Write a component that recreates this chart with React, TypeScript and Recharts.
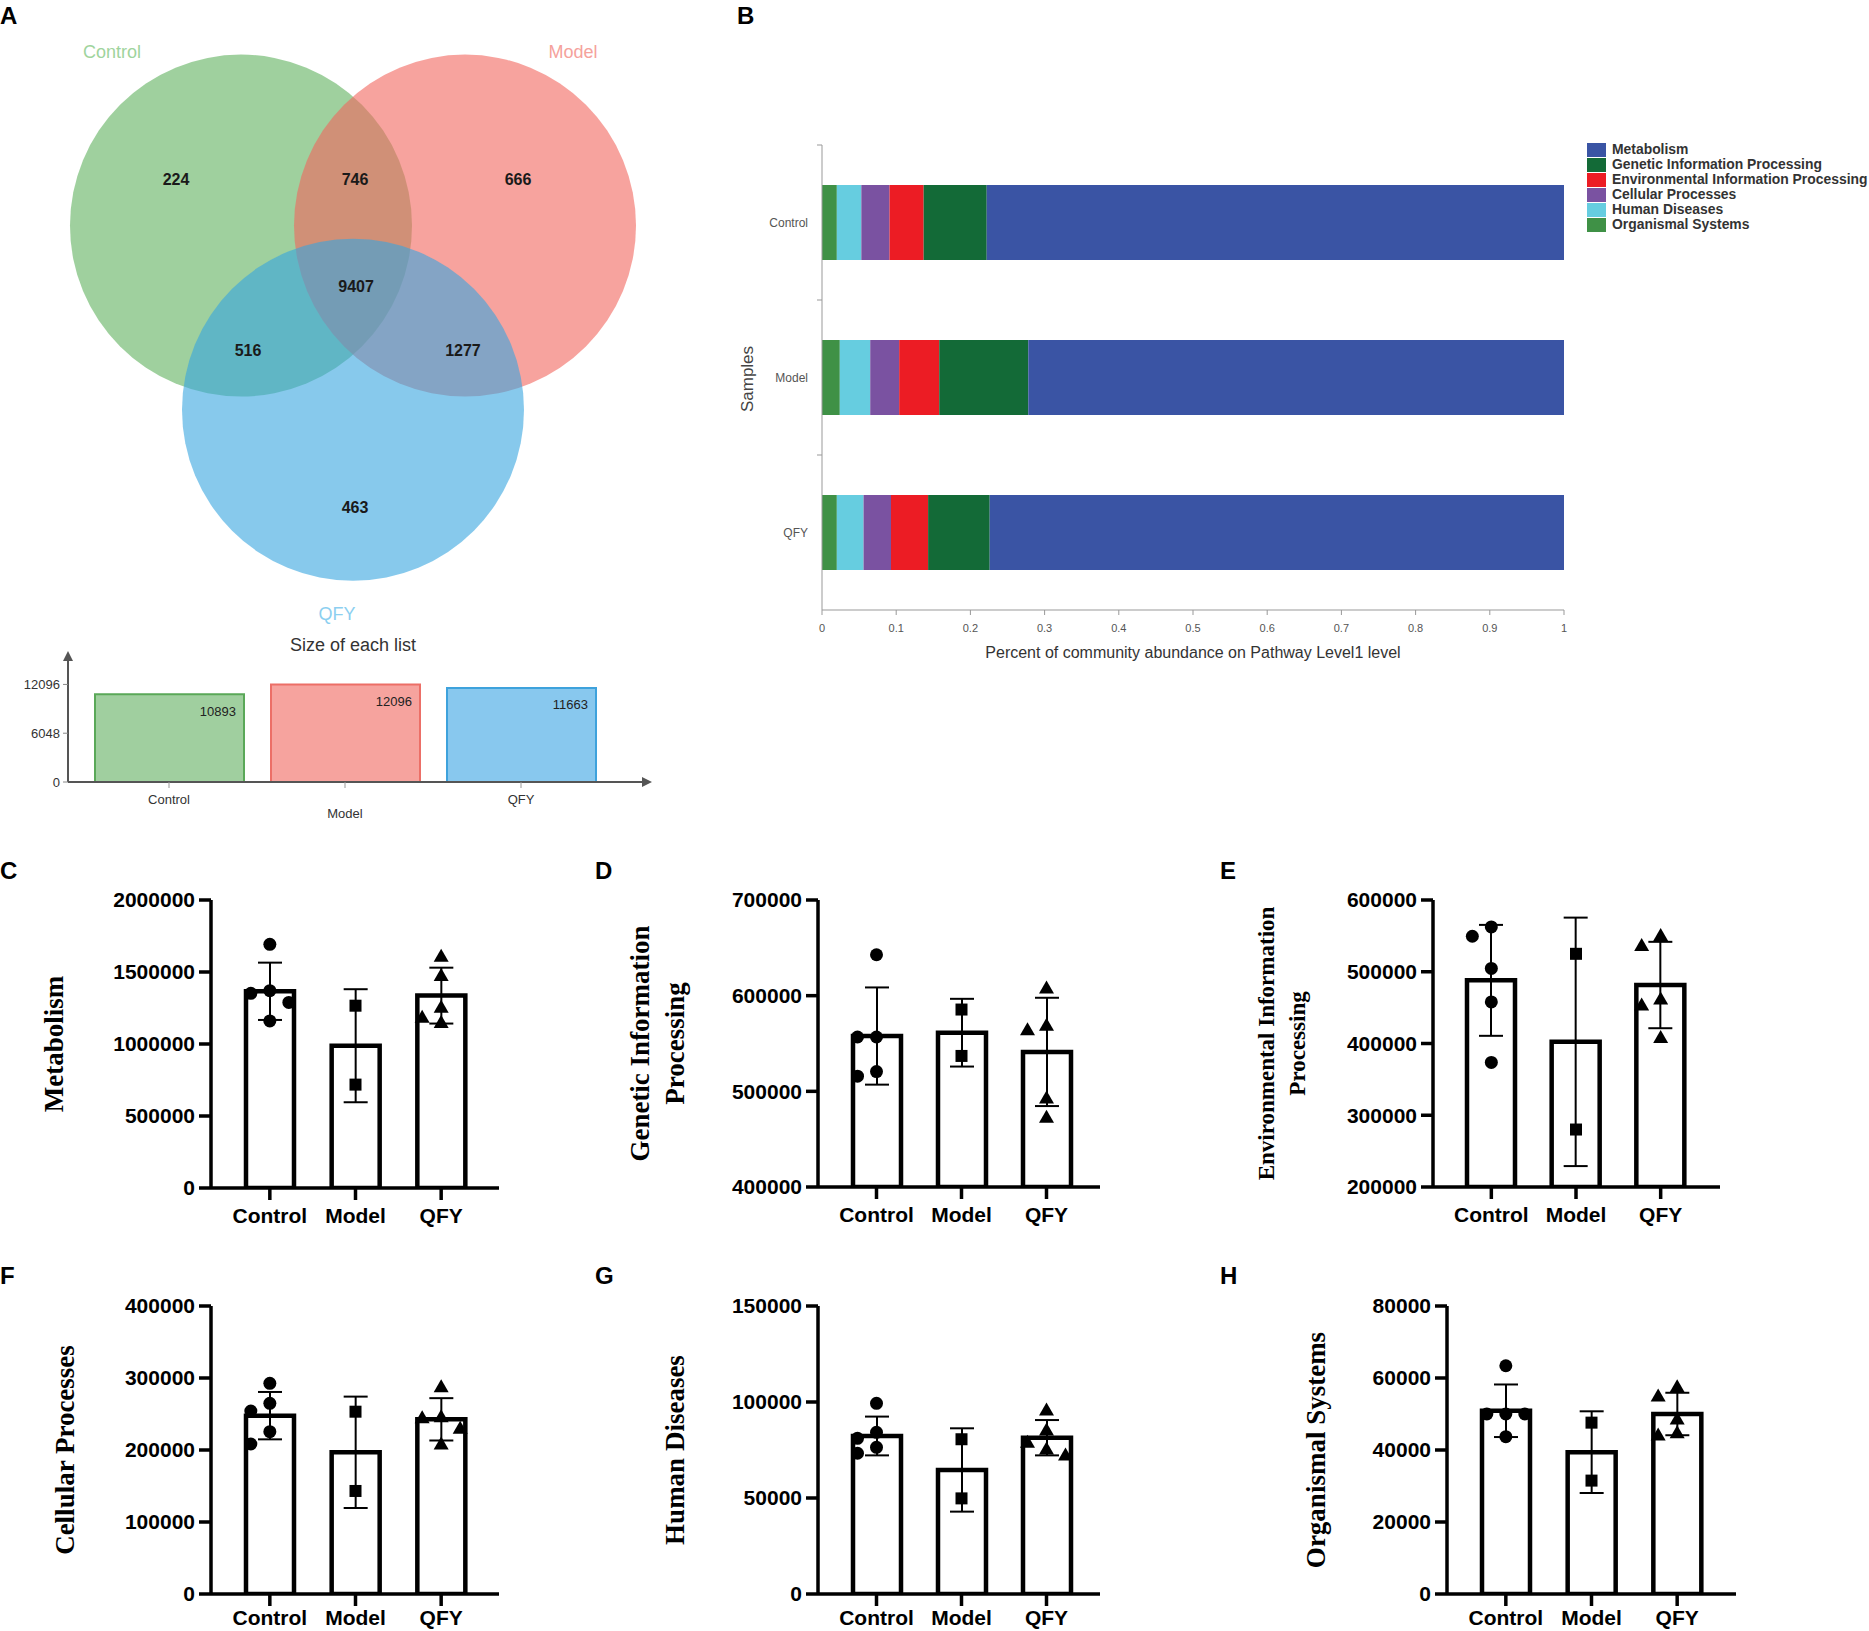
import React from 'react';
import {
  BarChart, Bar, ComposedChart, Line, ErrorBar, ScatterChart, Scatter,
  XAxis, YAxis, LabelList, Cell,
} from 'recharts';

// ---------- A: Venn + list sizes ----------
const VENN_SETS = ['Control', 'Model', 'QFY'];
const VENN_REGIONS = ['Control', 'Control∩Model', 'Model', 'All', 'Control∩QFY', 'Model∩QFY', 'QFY'];
const VENN_COUNTS = [224, 746, 666, 9407, 516, 1277, 463];
const LIST_SIZES = [10893, 12096, 11663];
const LIST_TICKS = [0, 6048, 12096];

// ---------- B: pathway level 1 share ----------
const SAMPLES = ['Control', 'Model', 'QFY'];
const PATHWAYS = [
  'Organismal Systems', 'Human Diseases', 'Cellular Processes',
  'Environmental Information Processing', 'Genetic Information Processing', 'Metabolism',
];
const ORGANISMAL_SHARE = [0.020, 0.024, 0.020];
const HUMAN_SHARE = [0.033, 0.041, 0.036];
const CELLULAR_SHARE = [0.038, 0.039, 0.037];
const ENVIRONMENTAL_SHARE = [0.046, 0.054, 0.050];
const GENETIC_SHARE = [0.085, 0.120, 0.083];
const METABOLISM_SHARE = [0.778, 0.722, 0.774];
const SHARE_TICKS = [0, 0.1, 0.2, 0.3, 0.4, 0.5, 0.6, 0.7, 0.8, 0.9, 1];

// ---------- C-H: abundance per group (mean, SD, samples) ----------
const GROUPS = ['Control', 'Model', 'QFY'];

const METABOLISM_MEAN = [1366000, 988000, 1336000];
const METABOLISM_SD = [199000, 392500, 194000];
const METABOLISM_POINTS = [
  [1692000, 1370000, 1352000, 1289000, 1160000],
  [1266000, 718000],
  [1609000, 1475000, 1255000, 1185000, 1150000],
];
const METABOLISM_TICKS = [0, 500000, 1000000, 1500000, 2000000];

const GENETIC_MEAN = [557800, 561300, 541200];
const GENETIC_SD = [50800, 35400, 56600];
const GENETIC_POINTS = [
  [642800, 556800, 556800, 520700, 515800],
  [585500, 537000],
  [608000, 569200, 564400, 493000, 472800],
];
const GENETIC_TICKS = [400000, 500000, 600000, 700000];

const ENVIRONMENTAL_MEAN = [488000, 402300, 481500];
const ENVIRONMENTAL_SD = [77300, 173150, 60200];
const ENVIRONMENTAL_POINTS = [
  [562500, 549500, 504600, 457900, 373600],
  [525000, 280100],
  [550500, 536600, 462000, 453700, 408300],
];
const ENVIRONMENTAL_TICKS = [200000, 300000, 400000, 500000, 600000];

const CELLULAR_MEAN = [247700, 196800, 242600];
const CELLULAR_SD = [32900, 77350, 29400];
const CELLULAR_POINTS = [
  [292600, 264800, 254200, 225500, 208300],
  [253200, 143100],
  [288000, 246300, 244900, 230100, 208300],
];
const CELLULAR_TICKS = [0, 100000, 200000, 300000, 400000];

const HUMAN_MEAN = [82300, 64600, 81400];
const HUMAN_SD = [10100, 21700, 9200];
const HUMAN_POINTS = [
  [99300, 84200, 81100, 76400, 73300],
  [80600, 49800],
  [95800, 85400, 79000, 75500, 72400],
];
const HUMAN_TICKS = [0, 50000, 100000, 150000];

const ORGANISMAL_MEAN = [50900, 39400, 50000];
const ORGANISMAL_SD = [7300, 11350, 5900];
const ORGANISMAL_POINTS = [
  [63400, 50000, 50000, 50000, 43700],
  [47600, 31500],
  [57600, 55000, 48600, 44800, 44200],
];
const ORGANISMAL_TICKS = [0, 20000, 40000, 60000, 80000];

// ---------- styles / layout ----------
const SANS = '"Liberation Sans", Arial, sans-serif';
const SERIF = '"Liberation Serif", "Times New Roman", serif';

const VENN_W = 700;
const VENN_H = 640;
const VENN_R = 171; // px per circle radius
const VENN_OX = 353;
const VENN_OY = 287;
// geometry in circle radii, from the centroid of the three centres
const VENN_CENTRES = [[-0.655, -0.359], [0.655, -0.359], [0, 0.718]];
const VENN_COUNT_POS = [
  [-1.035, -0.628], [0.012, -0.628], [0.965, -0.628], [0.018, -0.002],
  [-0.614, 0.372], [0.643, 0.372], [0.012, 1.29],
];
const VENN_NAME_POS = [[-1.409, -1.376], [1.287, -1.376], [-0.094, 1.911]];
const VENN_FILL = ['#5fb05d', '#f2665d', '#37a5df'];
const VENN_NAME_COLOR = ['#9fd49d', '#f5a29c', '#8ccff0'];
const LIST_FILL = ['#a0cf9f', '#f6a39e', '#88c8ee'];
const LIST_STROKE = ['#5aa858', '#ec6f67', '#3ea2dc'];

const PATHWAY_KEYS = ['organismal', 'human', 'cellular', 'environmental', 'genetic', 'metabolism'];
const PATHWAY_COLORS = ['#3f9146', '#66cde0', '#7a52a1', '#ec1c24', '#136a37', '#3a54a4'];

const vennX: [number, number] = [-VENN_OX / VENN_R, (VENN_W - VENN_OX) / VENN_R];
const vennY: [number, number] = [-VENN_OY / VENN_R, (VENN_H - VENN_OY) / VENN_R];

function VennPanel() {
  const circles = VENN_SETS.map((name, i) => ({ name, i, x: VENN_CENTRES[i][0], y: VENN_CENTRES[i][1] }));
  const counts = VENN_REGIONS.map((name, i) => ({
    name, count: VENN_COUNTS[i], x: VENN_COUNT_POS[i][0], y: VENN_COUNT_POS[i][1],
  }));
  const names = VENN_SETS.map((name, i) => ({ name, i, x: VENN_NAME_POS[i][0], y: VENN_NAME_POS[i][1] }));
  return (
    <ScatterChart width={VENN_W} height={VENN_H} margin={{ top: 0, right: 0, bottom: 0, left: 0 }}>
      <XAxis type="number" dataKey="x" domain={vennX} hide allowDataOverflow />
      <YAxis type="number" dataKey="y" domain={vennY} hide reversed allowDataOverflow />
      <Scatter
        data={circles}
        isAnimationActive={false}
        shape={(p: any) => (
          <circle cx={p.cx} cy={p.cy} r={VENN_R} fill={VENN_FILL[p.payload.i]} fillOpacity={0.6} />
        )}
      />
      <Scatter
        data={counts}
        isAnimationActive={false}
        shape={(p: any) => (
          <text x={p.cx} y={p.cy} textAnchor="middle" dominantBaseline="central"
            fontFamily={SANS} fontSize={16} fontWeight={700} fill="#1a1a1a">
            {p.payload.count}
          </text>
        )}
      />
      <Scatter
        data={names}
        isAnimationActive={false}
        shape={(p: any) => (
          <text x={p.cx} y={p.cy} textAnchor="middle" dominantBaseline="central"
            fontFamily={SANS} fontSize={18} fill={VENN_NAME_COLOR[p.payload.i]}>
            {p.payload.name}
          </text>
        )}
      />
    </ScatterChart>
  );
}

const ListTick = (props: any) => {
  const { x, y, payload, index } = props;
  return (
    <text x={x} y={y + (index === 1 ? 14 : 0)} dy="0.71em" textAnchor="middle"
      fontFamily={SANS} fontSize={13} fill="#333">
      {payload.value}
    </text>
  );
};

const ListLabel = (props: any) => {
  const { x, y, width, value } = props;
  return (
    <text x={x + width - 8} y={y + 17} textAnchor="end" dominantBaseline="central"
      fontFamily={SANS} fontSize={13} fill="#222">
      {value}
    </text>
  );
};

function ListSizePanel() {
  const rows = VENN_SETS.map((name, i) => ({ name, size: LIST_SIZES[i] }));
  return (
    <BarChart width={700} height={210} data={rows} margin={{ top: 31, left: 8, right: 58, bottom: 18 }} barSize={149}>
      <XAxis
        dataKey="name"
        padding={{ left: 13, right: 33 }}
        axisLine={{ stroke: '#555', strokeWidth: 2, markerEnd: 'url(#arrowHead)' }}
        tickLine={{ stroke: '#999' }}
        tickSize={6}
        tickMargin={7}
        tick={<ListTick />}
        height={40}
        interval={0}
      />
      <YAxis
        type="number"
        domain={[0, 15000]}
        ticks={LIST_TICKS}
        interval={0}
        width={60}
        axisLine={{ stroke: '#555', strokeWidth: 2, markerStart: 'url(#arrowHead)' }}
        tickLine={{ stroke: '#888' }}
        tickSize={5}
        tickMargin={3}
        tick={{ fontSize: 13, fill: '#333', fontFamily: SANS }}
      />
      <Bar dataKey="size" isAnimationActive={false} strokeWidth={2}>
        {rows.map((r, i) => (
          <Cell key={r.name} fill={LIST_FILL[i]} stroke={LIST_STROKE[i]} />
        ))}
        <LabelList dataKey="size" content={ListLabel} />
      </Bar>
    </BarChart>
  );
}

// ---------- B ----------
const B_PLOT_H = 465;
const SampleTick = (props: any) => {
  const { x, y, payload } = props;
  const band = B_PLOT_H / SAMPLES.length;
  return (
    <g>
      <line x1={x - 5} x2={x} y1={y - band / 2} y2={y - band / 2} stroke="#999" />
      <text x={x - 14} y={y} textAnchor="end" dominantBaseline="central"
        fontFamily={SANS} fontSize={12} fill="#555">
        {payload.value}
      </text>
    </g>
  );
};

function PathwayPanel() {
  const shares = [ORGANISMAL_SHARE, HUMAN_SHARE, CELLULAR_SHARE, ENVIRONMENTAL_SHARE, GENETIC_SHARE, METABOLISM_SHARE];
  const rows = SAMPLES.map((sample, i) => {
    const row: any = { sample };
    PATHWAY_KEYS.forEach((k, j) => { row[k] = shares[j][i]; });
    return row;
  });
  return (
    <BarChart layout="vertical" width={880} height={580} data={rows}
      margin={{ top: 45, left: 46, right: 16, bottom: 10 }} barSize={75}>
      <XAxis
        type="number"
        domain={[0, 1]}
        ticks={SHARE_TICKS}
        interval={0}
        allowDataOverflow
        height={60}
        tick={{ fontSize: 11, fill: '#555', fontFamily: SANS }}
        tickLine={{ stroke: '#999' }}
        tickSize={5}
        tickMargin={9}
        axisLine={{ stroke: '#999' }}
        label={{ value: 'Percent of community abundance on Pathway Level1 level', position: 'insideBottom', offset: 12, fontSize: 16, fill: '#333', fontFamily: SANS }}
      />
      <YAxis
        type="category"
        dataKey="sample"
        width={76}
        axisLine={{ stroke: '#999' }}
        tickLine={false}
        tickSize={0}
        tickMargin={0}
        tick={<SampleTick />}
        interval={0}
      />
      {PATHWAY_KEYS.map((k, i) => (
        <Bar key={k} name={PATHWAYS[i]} dataKey={k} stackId="share" fill={PATHWAY_COLORS[i]} isAnimationActive={false} />
      ))}
    </BarChart>
  );
}

function PathwayLegend() {
  const order = PATHWAYS.map((_, i) => i).reverse();
  return (
    <div style={{ position: 'absolute', left: 1587, top: 142, fontFamily: SANS }}>
      {order.map((i) => (
        <div key={PATHWAYS[i]} style={{ display: 'flex', alignItems: 'center', height: 15 }}>
          <div style={{ width: 19, height: 14, background: PATHWAY_COLORS[i] }} />
          <span style={{ marginLeft: 6, fontSize: 13.9, fontWeight: 700, color: '#333', lineHeight: '15px', whiteSpace: 'nowrap' }}>
            {PATHWAYS[i]}
          </span>
        </div>
      ))}
    </div>
  );
}

// ---------- C-H ----------
const SWARM_STEP = 19;
const MARKER = 13;

function buildRows(mean: number[], sd: number[], points: number[][], domain: number[], plotH: number) {
  const span = domain[1] - domain[0];
  return GROUPS.map((group, gi) => {
    const row: any = { group, mean: mean[gi], sd: sd[gi] };
    const placed: { dx: number; py: number }[] = [];
    points[gi].forEach((v, k) => {
      const py = ((v - domain[0]) / span) * plotH;
      const dx = [0, -1, 1, -2, 2].map((m) => m * SWARM_STEP).find((c) =>
        placed.every((p) => Math.abs(p.dx - c) >= MARKER || Math.abs(p.py - py) >= MARKER)) ?? 0;
      placed.push({ dx, py });
      row[`p${k}`] = v;
      row[`j${k}`] = dx;
    });
    return row;
  });
}

const renderMarker = (k: number) => (props: any) => {
  const { cx, cy, index, payload } = props;
  const key = `m-${k}-${index}`;
  if (cx == null || cy == null || Number.isNaN(cy)) return <g key={key} />;
  const x = cx + (payload?.[`j${k}`] ?? 0);
  if (index === 0) return <circle key={key} cx={x} cy={cy} r={6.5} fill="#000" />;
  if (index === 1) return <rect key={key} x={x - 6} y={cy - 6} width={12} height={12} fill="#000" />;
  return <path key={key} d={`M${x},${cy - 7.5}L${x + 7.5},${cy + 5.5}L${x - 7.5},${cy + 5.5}Z`} fill="#000" />;
};

const AXIS_STYLE = { stroke: '#000', strokeWidth: 3.5 };
const TICK_FONT = { fontSize: 21, fontWeight: 700, fill: '#000', fontFamily: SANS };

type PanelSpec = {
  id: string;
  mean: number[];
  sd: number[];
  points: number[][];
  domain: [number, number];
  ticks: number[];
  box: [number, number, number, number]; // plot left, top, right, bottom
  pad: [number, number];
  title: string[];
  titleX: number[];
  titleSize: number;
  letterX: number;
};

const PANELS: PanelSpec[] = [
  { id: 'C', mean: METABOLISM_MEAN, sd: METABOLISM_SD, points: METABOLISM_POINTS, domain: [0, 2000000], ticks: METABOLISM_TICKS,
    box: [211, 900, 499, 1188], pad: [16, 15], title: ['Metabolism'], titleX: [54], titleSize: 27, letterX: 0 },
  { id: 'D', mean: GENETIC_MEAN, sd: GENETIC_SD, points: GENETIC_POINTS, domain: [400000, 700000], ticks: GENETIC_TICKS,
    box: [818, 900, 1100, 1187], pad: [16, 11], title: ['Genetic Information', 'Processing'], titleX: [640, 675], titleSize: 27, letterX: 595 },
  { id: 'E', mean: ENVIRONMENTAL_MEAN, sd: ENVIRONMENTAL_SD, points: ENVIRONMENTAL_POINTS, domain: [200000, 600000], ticks: ENVIRONMENTAL_TICKS,
    box: [1433, 900, 1720, 1187], pad: [16, 17], title: ['Environmental Information', 'Processing'], titleX: [1266, 1297], titleSize: 23, letterX: 1220 },
  { id: 'F', mean: CELLULAR_MEAN, sd: CELLULAR_SD, points: CELLULAR_POINTS, domain: [0, 400000], ticks: CELLULAR_TICKS,
    box: [211, 1306, 499, 1594], pad: [16, 15], title: ['Cellular Processes'], titleX: [65], titleSize: 27, letterX: 0 },
  { id: 'G', mean: HUMAN_MEAN, sd: HUMAN_SD, points: HUMAN_POINTS, domain: [0, 150000], ticks: HUMAN_TICKS,
    box: [818, 1306, 1100, 1594], pad: [16, 11], title: ['Human Diseases'], titleX: [675], titleSize: 27, letterX: 595 },
  { id: 'H', mean: ORGANISMAL_MEAN, sd: ORGANISMAL_SD, points: ORGANISMAL_POINTS, domain: [0, 80000], ticks: ORGANISMAL_TICKS,
    box: [1447, 1306, 1736, 1594], pad: [16, 16], title: ['Organismal Systems'], titleX: [1316], titleSize: 27, letterX: 1220 },
];

function PrismPanel({ spec }: { spec: PanelSpec }) {
  const [pl, pt, pr, pb] = spec.box;
  const left = pl - 120;
  const top = pt - 40;
  const width = pr + 20 - left;
  const height = Math.min(pb + 70, 1631) - top;
  const bottomRow = pb > 1400;
  const rows = buildRows(spec.mean, spec.sd, spec.points, spec.domain, pb - pt);
  const maxPts = Math.max(...spec.points.map((p) => p.length));
  return (
    <div style={{ position: 'absolute', left, top }}>
      <ComposedChart width={width} height={height} data={rows}
        margin={{ top: 40, left: 10, right: 20, bottom: height - 40 - (pb - pt) - 60 }}>
        <XAxis
          dataKey="group"
          type="category"
          padding={{ left: spec.pad[0], right: spec.pad[1] }}
          axisLine={AXIS_STYLE}
          tickLine={AXIS_STYLE}
          tickSize={12}
          tickMargin={bottomRow ? 4 : 8}
          tick={TICK_FONT}
          height={60}
          interval={0}
        />
        <YAxis
          type="number"
          domain={spec.domain}
          ticks={spec.ticks}
          allowDataOverflow
          interval={0}
          width={110}
          axisLine={AXIS_STYLE}
          tickLine={AXIS_STYLE}
          tickSize={12}
          tickMargin={4}
          tick={TICK_FONT}
        />
        <Bar dataKey="mean" fill="#fff" stroke="#000" strokeWidth={4.5} barSize={48} isAnimationActive={false}>
          <ErrorBar dataKey="sd" width={12} strokeWidth={2} stroke="#000" direction="y" />
        </Bar>
        {Array.from({ length: maxPts }, (_, k) => (
          <Line
            key={k}
            dataKey={`p${k}`}
            stroke="none"
            dot={renderMarker(k)}
            activeDot={false}
            legendType="none"
            isAnimationActive={false}
          />
        ))}
      </ComposedChart>
    </div>
  );
}

function Overlay() {
  const letters = [
    { t: 'A', x: 0, y: 24 }, { t: 'B', x: 737, y: 24 },
    ...PANELS.map((p) => ({ t: p.id, x: p.letterX, y: p.box[1] < 1000 ? 879 : 1284 })),
  ];
  return (
    <svg width={1869} height={1631} style={{ position: 'absolute', left: 0, top: 0, pointerEvents: 'none' }}>
      {letters.map((l) => (
        <text key={l.t} x={l.x} y={l.y} fontFamily={SANS} fontWeight={700} fontSize={24} fill="#000">{l.t}</text>
      ))}
      {PANELS.map((p) => {
        const cy = (p.box[1] + p.box[3]) / 2;
        return p.title.map((line, i) => (
          <text key={p.id + i} x={p.titleX[i]} y={cy} transform={`rotate(-90 ${p.titleX[i]} ${cy})`}
            textAnchor="middle" dominantBaseline="central" fontFamily={SERIF} fontWeight={700}
            fontSize={p.titleSize} fill="#000">
            {line}
          </text>
        ));
      })}
      <text x={747} y={379} transform="rotate(-90 747 379)" textAnchor="middle" dominantBaseline="central"
        fontFamily={SANS} fontSize={17} fill="#444">Samples</text>
      <text x={353} y={645} textAnchor="middle" dominantBaseline="central" fontFamily={SANS} fontSize={18} fill="#333">
        Size of each list
      </text>
    </svg>
  );
}

export default function App() {
  return (
    <div style={{ position: 'relative', width: 1869, height: 1631, background: '#fff', fontFamily: SANS, overflow: 'hidden' }}>
      <style>{'body{margin:0}'}</style>
      <svg width={0} height={0} style={{ position: 'absolute' }}>
        <defs>
          <marker id="arrowHead" viewBox="0 0 10 10" refX="0" refY="5" markerWidth="5" markerHeight="5" orient="auto-start-reverse">
            <path d="M0,0L10,5L0,10Z" fill="#555" />
          </marker>
        </defs>
      </svg>
      <div style={{ position: 'absolute', left: 0, top: 0 }}><VennPanel /></div>
      <div style={{ position: 'absolute', left: 0, top: 630 }}><ListSizePanel /></div>
      <div style={{ position: 'absolute', left: 700, top: 100 }}><PathwayPanel /></div>
      <PathwayLegend />
      {PANELS.map((p) => <PrismPanel key={p.id} spec={p} />)}
      <Overlay />
    </div>
  );
}
